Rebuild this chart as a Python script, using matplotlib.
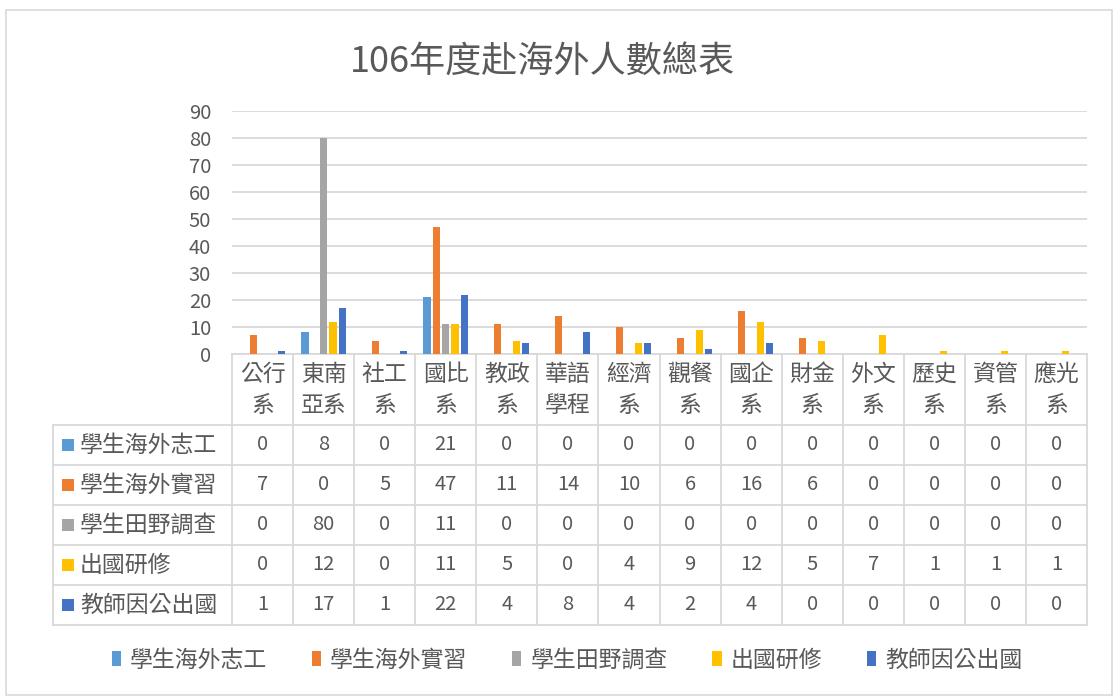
import matplotlib
matplotlib.use("Agg")
import matplotlib.pyplot as plt
import matplotlib.transforms as mtransforms
from matplotlib.lines import Line2D
from matplotlib.patches import Rectangle, Patch

plt.rcParams['font.family'] = ['Noto Sans CJK TC', 'DejaVu Sans']

title = "106年度赴海外人數總表"
categories = ["公行\n系", "東南\n亞系", "社工\n系", "國比\n系", "教政\n系", "華語\n學程", "經濟\n系",
              "觀餐\n系", "國企\n系", "財金\n系", "外文\n系", "歷史\n系", "資管\n系", "應光\n系"]
series_names = ["學生海外志工", "學生海外實習", "學生田野調查", "出國研修", "教師因公出國"]
volunteer = [0, 8, 0, 21, 0, 0, 0, 0, 0, 0, 0, 0, 0, 0]
internship = [7, 0, 5, 47, 11, 14, 10, 6, 16, 6, 0, 0, 0, 0]
fieldwork = [0, 80, 0, 11, 0, 0, 0, 0, 0, 0, 0, 0, 0, 0]
study = [0, 12, 0, 11, 5, 0, 4, 9, 12, 5, 7, 1, 1, 1]
faculty = [1, 17, 1, 22, 4, 8, 4, 2, 4, 0, 0, 0, 0, 0]
series = [volunteer, internship, fieldwork, study, faculty]
colors = ["#5B9BD5", "#ED7D31", "#A5A5A5", "#FFC000", "#4472C4"]
yticks = [0, 10, 20, 30, 40, 50, 60, 70, 80, 90]

W, H = 1115, 697
DPI = 100
TXT = "#595959"
GRID = "#D9D9D9"


def fx(px):
    return px / W


def fy(py):
    return 1 - py / H


fig = plt.figure(figsize=(W / DPI, H / DPI), dpi=DPI)
fig.patch.set_facecolor("white")

# outer frame
fig.add_artist(Rectangle((fx(6), fy(695)), fx(1112) - fx(6), fy(10) - fy(695),
                         transform=fig.transFigure, fill=False, edgecolor=GRID, lw=1.2))

ax_left, ax_right, ax_bottom, ax_top = 232, 1087, 354, 111
ax = fig.add_axes([fx(ax_left), fy(ax_bottom), fx(ax_right) - fx(ax_left), (ax_bottom - ax_top) / H])
n = len(categories)
ax.set_xlim(-0.5, n - 0.5)
ax.set_ylim(0, 90)
ax.set_yticks(yticks)
ax.set_yticklabels([str(v) for v in yticks], fontsize=14.5, color=TXT)
ax.tick_params(axis='y', length=0, pad=15)
ax.set_xticks([])
for s in ["top", "right", "left"]:
    ax.spines[s].set_visible(False)
ax.spines["bottom"].set_color(GRID)
ax.spines["bottom"].set_linewidth(1.3)
ax.grid(axis='y', color=GRID, lw=1.3)
ax.set_axisbelow(True)

step, width = 0.153, 0.12
xs = list(range(n))
for i, (vals, c) in enumerate(zip(series, colors)):
    ax.bar([x + (i - 2) * step for x in xs], vals, width=width, color=c, zorder=3)

# data table
blend = mtransforms.blended_transform_factory(ax.transData, fig.transFigure)
rows = [425, 465, 505, 545, 585, 625]
tab_left = 53
for k in range(n + 1):
    fig.add_artist(Line2D([k - 0.5, k - 0.5], [fy(354), fy(625)], transform=blend,
                          color=GRID, lw=1.3, clip_on=False))
fig.add_artist(Line2D([fx(tab_left), fx(tab_left)], [fy(425), fy(625)], transform=fig.transFigure,
                      color=GRID, lw=1.3))
for r in rows:
    fig.add_artist(Line2D([fx(tab_left), fx(ax_right)], [fy(r), fy(r)], transform=fig.transFigure,
                          color=GRID, lw=1.3))

for j, cat in enumerate(categories):
    ax.text(j, fy(390), cat, transform=blend, ha='center', va='center', fontsize=16.5,
            color=TXT, linespacing=1.45)

for i, (name, vals, c) in enumerate(zip(series_names, series, colors)):
    yc = (rows[i] + rows[i + 1]) / 2
    fig.add_artist(Rectangle((fx(62), fy(yc + 6)), fx(12), 12 / H, transform=fig.transFigure,
                             facecolor=c, edgecolor='none'))
    fig.text(fx(80), fy(yc), name, ha='left', va='center', fontsize=16.5, color=TXT)
    for j, v in enumerate(vals):
        ax.text(j, fy(yc), str(v), transform=blend, ha='center', va='center', fontsize=14.5, color=TXT)

# legend
handles = [Patch(facecolor=c, edgecolor='none') for c in colors]
fig.legend(handles, series_names, loc='center', bbox_to_anchor=(fx(567), fy(660)), ncol=5,
           frameon=False, fontsize=16.5, labelcolor=TXT, handlelength=0.4, handleheight=0.6,
           handletextpad=0.4, columnspacing=1.95, borderaxespad=0)

fig.text(fx(542), fy(62), title, ha='center', va='center', fontsize=26, color=TXT)

fig.savefig("out.png", dpi=DPI, facecolor="white")
